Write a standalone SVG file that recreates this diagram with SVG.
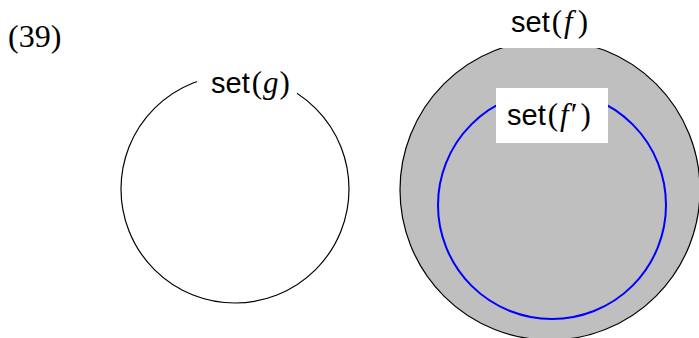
<svg xmlns="http://www.w3.org/2000/svg" width="699" height="338" viewBox="0 0 699 338">
  <style>
    .num { font-family: "Liberation Serif", serif; font-size: 32px; fill: #000; }
    .lbl { font-family: "Liberation Sans", sans-serif; font-size: 29px; fill: #000; }
    .math { font-family: "Liberation Serif", serif; font-size: 31px; }
    .it { font-family: "Liberation Serif", serif; font-style: italic; font-size: 31px; }
    .mask { fill: #fff; stroke: none; }
  </style>
  <rect width="699" height="338" fill="#fff"/>
  <text class="num" x="8" y="47">(39)</text>

  <g id="set-g">
    <circle cx="235" cy="189" r="114" fill="none" stroke="#000" stroke-width="1.2"/>
    <rect class="mask" x="197" y="60" width="100" height="46"/>
    <text class="lbl" x="211" y="93">set<tspan class="math" dx="2">(</tspan><tspan class="it" dx="1">g</tspan><tspan class="math" dx="1">)</tspan></text>
  </g>

  <g id="set-f">
    <circle cx="550" cy="190" r="150" fill="#bfbfbf" stroke="#000" stroke-width="1.2"/>
    <rect class="mask" x="500" y="0" width="104" height="48"/>
    <text class="lbl" x="511" y="32">set<tspan class="math" dx="2">(</tspan><tspan class="it" dx="2">f</tspan><tspan class="math" dx="5">)</tspan></text>
  </g>

  <g id="set-f-prime">
    <circle cx="552" cy="205" r="114" fill="none" stroke="#0000ff" stroke-width="2"/>
    <rect class="mask" x="496" y="88" width="112" height="55"/>
    <text class="lbl" x="507" y="125">set<tspan class="math" dx="2">(</tspan><tspan class="it" dx="2">f</tspan><tspan class="math" dx="2">′</tspan><tspan class="math" dx="3">)</tspan></text>
  </g>
</svg>
